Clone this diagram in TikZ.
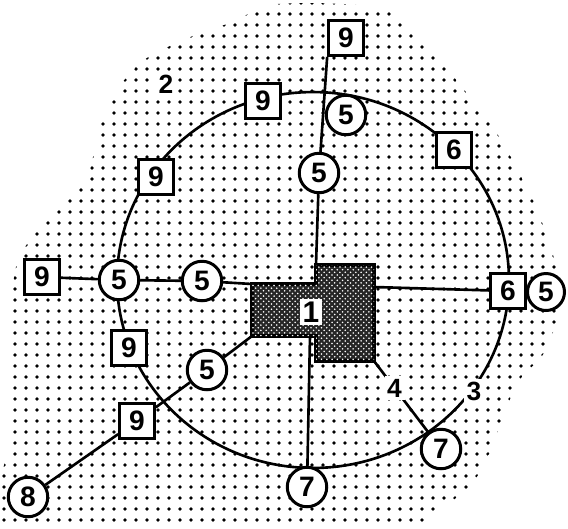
\documentclass[tikz,border=0pt]{standalone}
\usepackage{fontspec}
\setmainfont{Liberation Sans}
\usetikzlibrary{patterns}
\tikzset{
    sqnode/.style={rectangle, draw, fill=white, line width=1.8pt, minimum size=0.69cm, inner sep=0pt, font=\fontsize{16}{16}\selectfont\bfseries},
    rnode/.style={circle, draw, fill=white, line width=1.7pt, minimum size=0.79cm, inner sep=0pt, font=\fontsize{16}{16}\selectfont\bfseries},
    road/.style={line width=1.5pt},
    lbl/.style={fill=white, inner sep=1.5pt, font=\fontsize{15}{15}\selectfont\bfseries},
}

\begin{document}
\begin{tikzpicture}[x=0.02cm, y=-0.02cm]
\useasboundingbox (0,0) rectangle (568,528);

% Stippled zone
\begin{scope}
\clip plot[smooth cycle] coordinates {(277,4) (381,8) (423,40) (453,76) (496,132) (532,198) (553,255) (562,300) (553,332) (542,356) (518,382) (502,420) (488,456) (470,486) (436,512) (405,528) (200,530) (8,528) (8,440) (12,300) (22,252) (65,200) (88,175) (98,133) (111,100) (126,78) (150,56) (200,33) (233,22)};
\foreach \i in {0,...,52}
  \foreach \j in {0,...,48}
    \fill (\i*11+4, \j*11+3) circle (0.038cm);
\end{scope}

% Central block
\coordinate (blkNW) at (252,284);
\coordinate (blkN) at (316,265);
\coordinate (blkNE) at (374,265);
\coordinate (blkE) at (374,287);
\coordinate (blkSE) at (374,361);
\coordinate (blkS) at (310,336);
\coordinate (blkSW) at (252,336);
\filldraw[fill=black!85, line width=1.8pt] (blkNW) -- (316,284) -- (blkN) -- (blkNE) -- (blkSE) -- (316,361) -- (316,336) -- (blkSW) -- cycle;
\fill[pattern=crosshatch dots, pattern color=white] (blkNW) -- (316,284) -- (blkN) -- (blkNE) -- (blkSE) -- (316,361) -- (316,336) -- (blkSW) -- cycle;
\node[lbl, font=\fontsize{17}{17}\selectfont\bfseries] (centre) at (311,312) {1};

% Ring
\draw[road] (313,280) ellipse [x radius=3.92cm, y radius=3.76cm];

% Nodes
\node[sqnode] (n9top) at (346,38) {9};
\node[sqnode] (n9a) at (263,101) {9};
\node[sqnode] (n9b) at (156,177) {9};
\node[sqnode] (n9w) at (42,277) {9};
\node[sqnode] (n9c) at (129,348) {9};
\node[sqnode] (n9d) at (137,421) {9};
\node[sqnode] (n6ne) at (454,150) {6};
\node[sqnode] (n6e) at (508,291) {6};
\node[rnode] (n5top) at (346,115) {5};
\node[rnode] (n5n) at (319,173) {5};
\node[rnode] (n5w) at (119,280) {5};
\node[rnode] (n5c) at (202,281) {5};
\node[rnode] (n5sw) at (207,370) {5};
\node[rnode, minimum size=0.74cm] (n5e) at (546,292) {5};
\node[rnode] (n7s) at (307,487) {7};
\node[rnode] (n7se) at (441,449) {7};
\node[rnode] (n8) at (28,497) {8};

% Labels
\node[lbl] (lab2) at (166,84) {2};
\node[lbl] (lab3) at (474,391) {3};

% Roads
\draw[road] (n9top.south west) -- (n5n);
\draw[road] (n5n) -- (blkN);
\draw[road] (n9w) -- (n5w);
\draw[road] (n5w) -- (n5c);
\draw[road] (n5c) -- (blkNW);
\draw[road] (n5sw) -- (blkSW);
\draw[road] (n5sw) -- (n9d);
\draw[road] (n9d) -- (n8);
\draw[road] (blkE) -- (n6e);
\draw[road] (blkS) -- (n7s);
\draw[road] (blkSE) -- node[lbl, pos=0.38] (lab4) {4} (n7se);
\end{tikzpicture}
\end{document}
